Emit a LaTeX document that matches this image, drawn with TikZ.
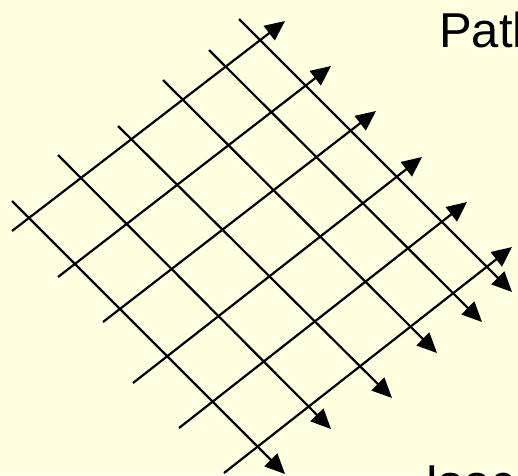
\documentclass[tikz,border=0pt]{standalone}
\usepackage{fontspec}
\setmainfont{Liberation Sans}
\usetikzlibrary{arrows.meta}

\begin{document}
\begin{tikzpicture}[
		x=1pt, y=-1pt,
		myline/.style={
			line width=2.2pt,
			-{Triangle[length=20pt, width=18pt]},
		},
		mylabel/.style={
			anchor=base west,
			inner sep=0pt,
			font=\fontsize{49}{55}\selectfont,
		}
	]

		% Couleurs
		\definecolor{fond}{RGB}{255,255,225}

		% Cadre
		\useasboundingbox (0,0) rectangle (518,475);
		\clip (0,0) rectangle (518,475);
		\fill[fond] (0,0) rectangle (518,475);

		% Chemins (de bas-gauche vers haut-droite)
		\coordinate (path1-a) at (12,231);  \coordinate (path1-b) at (285,21);
		\coordinate (path2-a) at (58,277);  \coordinate (path2-b) at (331,66);
		\coordinate (path3-a) at (103,322); \coordinate (path3-b) at (376,111);
		\coordinate (path4-a) at (133,383); \coordinate (path4-b) at (422,157);
		\coordinate (path5-a) at (179,428); \coordinate (path5-b) at (467,202);
		\coordinate (path6-a) at (224,473); \coordinate (path6-b) at (512,247);

		% Isochrones (de haut-gauche vers bas-droite)
		\coordinate (iso1-a) at (12,201);  \coordinate (iso1-b) at (285,474);
		\coordinate (iso2-a) at (58,155);  \coordinate (iso2-b) at (331,429);
		\coordinate (iso3-a) at (118,126); \coordinate (iso3-b) at (392,398);
		\coordinate (iso4-a) at (163,80);  \coordinate (iso4-b) at (437,353);
		\coordinate (iso5-a) at (209,50);  \coordinate (iso5-b) at (482,322);
		\coordinate (iso6-a) at (239,19);  \coordinate (iso6-b) at (512,292);

		% Textes
		\node[mylabel] (pathtext) at (439,47) {Path};
		\node[mylabel] (isotext) at (425,499) {Isoc};

		% Lignes
		\foreach \i in {1,...,6} {
			\draw[myline] (path\i-a) -- (path\i-b);
			\draw[myline] (iso\i-a) -- (iso\i-b);
		}

	\end{tikzpicture}
\end{document}
